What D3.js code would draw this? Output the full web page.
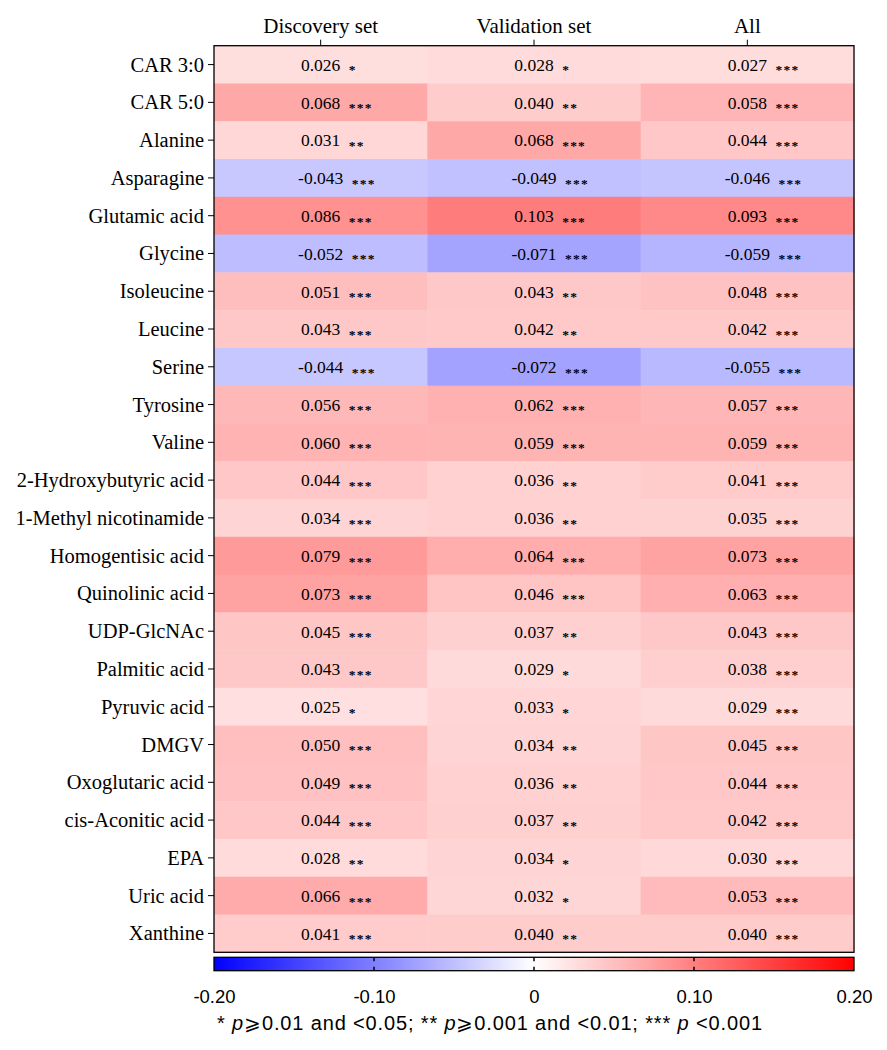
<!DOCTYPE html>
<html>
<head>
<meta charset="utf-8">
<script src="https://cdn.jsdelivr.net/npm/d3@7"></script>
<style>
  body { margin: 0; background: #fff; }
  svg { display: block; }
</style>
</head>
<body>
<div id="container"></div>
<script>
/* DATA */
const metabolites = ["CAR 3:0", "CAR 5:0", "Alanine", "Asparagine", "Glutamic acid", "Glycine",
  "Isoleucine", "Leucine", "Serine", "Tyrosine", "Valine", "2-Hydroxybutyric acid",
  "1-Methyl nicotinamide", "Homogentisic acid", "Quinolinic acid", "UDP-GlcNAc",
  "Palmitic acid", "Pyruvic acid", "DMGV", "Oxoglutaric acid", "cis-Aconitic acid",
  "EPA", "Uric acid", "Xanthine"];
const columns = ["Discovery set", "Validation set", "All"];

const discovery = [0.026, 0.068, 0.031, -0.043, 0.086, -0.052, 0.051, 0.043, -0.044, 0.056, 0.060, 0.044,
  0.034, 0.079, 0.073, 0.045, 0.043, 0.025, 0.050, 0.049, 0.044, 0.028, 0.066, 0.041];
const validation = [0.028, 0.040, 0.068, -0.049, 0.103, -0.071, 0.043, 0.042, -0.072, 0.062, 0.059, 0.036,
  0.036, 0.064, 0.046, 0.037, 0.029, 0.033, 0.034, 0.036, 0.037, 0.034, 0.032, 0.040];
const allSet = [0.027, 0.058, 0.044, -0.046, 0.093, -0.059, 0.048, 0.042, -0.055, 0.057, 0.059, 0.041,
  0.035, 0.073, 0.063, 0.043, 0.038, 0.029, 0.045, 0.044, 0.042, 0.030, 0.053, 0.040];

const discoveryStars = ["*", "***", "**", "***", "***", "***", "***", "***", "***", "***", "***", "***",
  "***", "***", "***", "***", "***", "*", "***", "***", "***", "**", "***", "***"];
const validationStars = ["*", "**", "***", "***", "***", "***", "**", "**", "***", "***", "***", "**",
  "**", "***", "***", "**", "*", "*", "**", "**", "**", "*", "*", "**"];
const allStars = ["***", "***", "***", "***", "***", "***", "***", "***", "***", "***", "***", "***",
  "***", "***", "***", "***", "***", "***", "***", "***", "***", "***", "***", "***"];

const colorTicks = [-0.20, -0.10, 0, 0.10, 0.20];
const footnote = ["* ", "p", "\u2A7E0.01 and <0.05; ** ", "p", "\u2A7E0.001 and <0.01; *** ", "p", " <0.001"];

/* LAYOUT */
const W = 887, H = 1050;
const plot = { left: 214, right: 854, top: 45.7, bottom: 952.3 };
const bar = { top: 957.3, bottom: 970.7 };
const serif = "'Liberation Serif', 'Times New Roman', serif";
const sans = "'Liberation Sans', Arial, sans-serif";

const cells = [];
const seriesVals = [discovery, validation, allSet];
const seriesStars = [discoveryStars, validationStars, allStars];
metabolites.forEach((m, i) => {
  columns.forEach((c, j) => {
    cells.push({ row: m, col: c, value: seriesVals[j][i], stars: seriesStars[j][i] });
  });
});

/* SCALES */
const xScale = d3.scaleBand().domain(columns).range([plot.left, plot.right]);
const yScale = d3.scaleBand().domain(metabolites).range([plot.top, plot.bottom]);
const colorScale = d3.scaleLinear()
  .domain([-0.2, 0, 0.2])
  .range(["#0000ff", "#ffffff", "#ff0000"])
  .clamp(true);
const barScale = d3.scaleLinear().domain([-0.2, 0.2]).range([plot.left, plot.right]);

const svg = d3.select("#container")
  .append("svg")
  .attr("width", W)
  .attr("height", H);

// heatmap cells
svg.selectAll("rect.cell")
  .data(cells)
  .join("rect")
  .attr("class", "cell")
  .attr("x", d => xScale(d.col))
  .attr("y", d => yScale(d.row))
  .attr("width", xScale.bandwidth() + 0.5)
  .attr("height", yScale.bandwidth() + 0.5)
  .attr("fill", d => colorScale(d.value));

// values + significance stars
const labels = svg.selectAll("g.lab")
  .data(cells)
  .join("g")
  .attr("class", "lab")
  .attr("transform", d => `translate(${xScale(d.col) + xScale.bandwidth() / 2}, ${yScale(d.row) + yScale.bandwidth() / 2 + 6.3})`);

labels.append("text")
  .attr("class", "val")
  .attr("text-anchor", "middle")
  .style("font-family", serif)
  .style("font-size", "17.5px")
  .attr("fill", "#000")
  .text(d => d.value.toFixed(3));

labels.each(function (d) {
  const g = d3.select(this);
  const w = g.select("text.val").node().getComputedTextLength();
  g.append("text")
    .attr("x", w / 2 + 8.5)
    .attr("y", 3.6)
    .style("font-family", serif)
    .style("font-size", "13.5px")
    .style("font-weight", "bold")
    .style("letter-spacing", "1.2px")
    .attr("fill", "#000")
    .text(d.stars);
});

// frame
svg.append("rect")
  .attr("x", plot.left)
  .attr("y", plot.top)
  .attr("width", plot.right - plot.left)
  .attr("height", plot.bottom - plot.top)
  .attr("fill", "none")
  .attr("stroke", "#000")
  .attr("stroke-width", 1.3);

// axes
const yAxis = svg.append("g")
  .attr("transform", `translate(${plot.left}, 0)`)
  .call(d3.axisLeft(yScale).tickSize(6).tickPadding(4));
yAxis.select(".domain").remove();
yAxis.selectAll("text")
  .attr("dy", "0.34em")
  .attr("fill", "#000")
  .style("font-family", serif)
  .style("font-size", "20.5px");

const xAxis = svg.append("g")
  .attr("transform", `translate(0, ${plot.top})`)
  .call(d3.axisTop(xScale).tickSize(6).tickPadding(7));
xAxis.select(".domain").remove();
xAxis.selectAll("text")
  .attr("fill", "#000")
  .style("font-family", serif)
  .style("font-size", "21px");

// color bar
const defs = svg.append("defs");
const grad = defs.append("linearGradient").attr("id", "cbar");
d3.range(0, 1.0001, 0.05).forEach(t => {
  grad.append("stop")
    .attr("offset", `${t * 100}%`)
    .attr("stop-color", colorScale(barScale.invert(plot.left + t * (plot.right - plot.left))));
});
svg.append("rect")
  .attr("x", plot.left)
  .attr("y", bar.top)
  .attr("width", plot.right - plot.left)
  .attr("height", bar.bottom - bar.top)
  .attr("fill", "url(#cbar)")
  .attr("stroke", "#000")
  .attr("stroke-width", 1.3);

svg.selectAll("g.cbtick")
  .data(colorTicks.slice(1, -1))
  .join(enter => {
    const g = enter.append("g").attr("class", "cbtick");
    g.append("line").attr("y1", bar.top).attr("y2", bar.top + 4);
    g.append("line").attr("y1", bar.bottom - 4).attr("y2", bar.bottom);
    return g;
  })
  .selectAll("line")
  .attr("x1", function () { return barScale(d3.select(this.parentNode).datum()); })
  .attr("x2", function () { return barScale(d3.select(this.parentNode).datum()); })
  .attr("stroke", "#000")
  .attr("stroke-width", 1.5);

const cAxis = svg.append("g")
  .attr("transform", `translate(0, 1002.5)`)
  .call(d3.axisBottom(barScale).tickValues(colorTicks).tickSize(0)
    .tickFormat(d => d === 0 ? "0" : d.toFixed(2)));
cAxis.select(".domain").remove();
cAxis.selectAll("text")
  .attr("y", 0)
  .attr("dy", 0)
  .attr("fill", "#000")
  .style("font-family", sans)
  .style("font-size", "18.5px");

// footnote
const note = svg.append("text")
  .attr("x", 217)
  .attr("y", 1029.5)
  .attr("textLength", 545)
  .attr("lengthAdjust", "spacing")
  .style("font-family", sans)
  .style("font-size", "20px")
  .attr("fill", "#000");
note.selectAll("tspan")
  .data(footnote)
  .join("tspan")
  .style("font-style", d => d === "p" ? "italic" : "normal")
  .text(d => d);
</script>
</body>
</html>
